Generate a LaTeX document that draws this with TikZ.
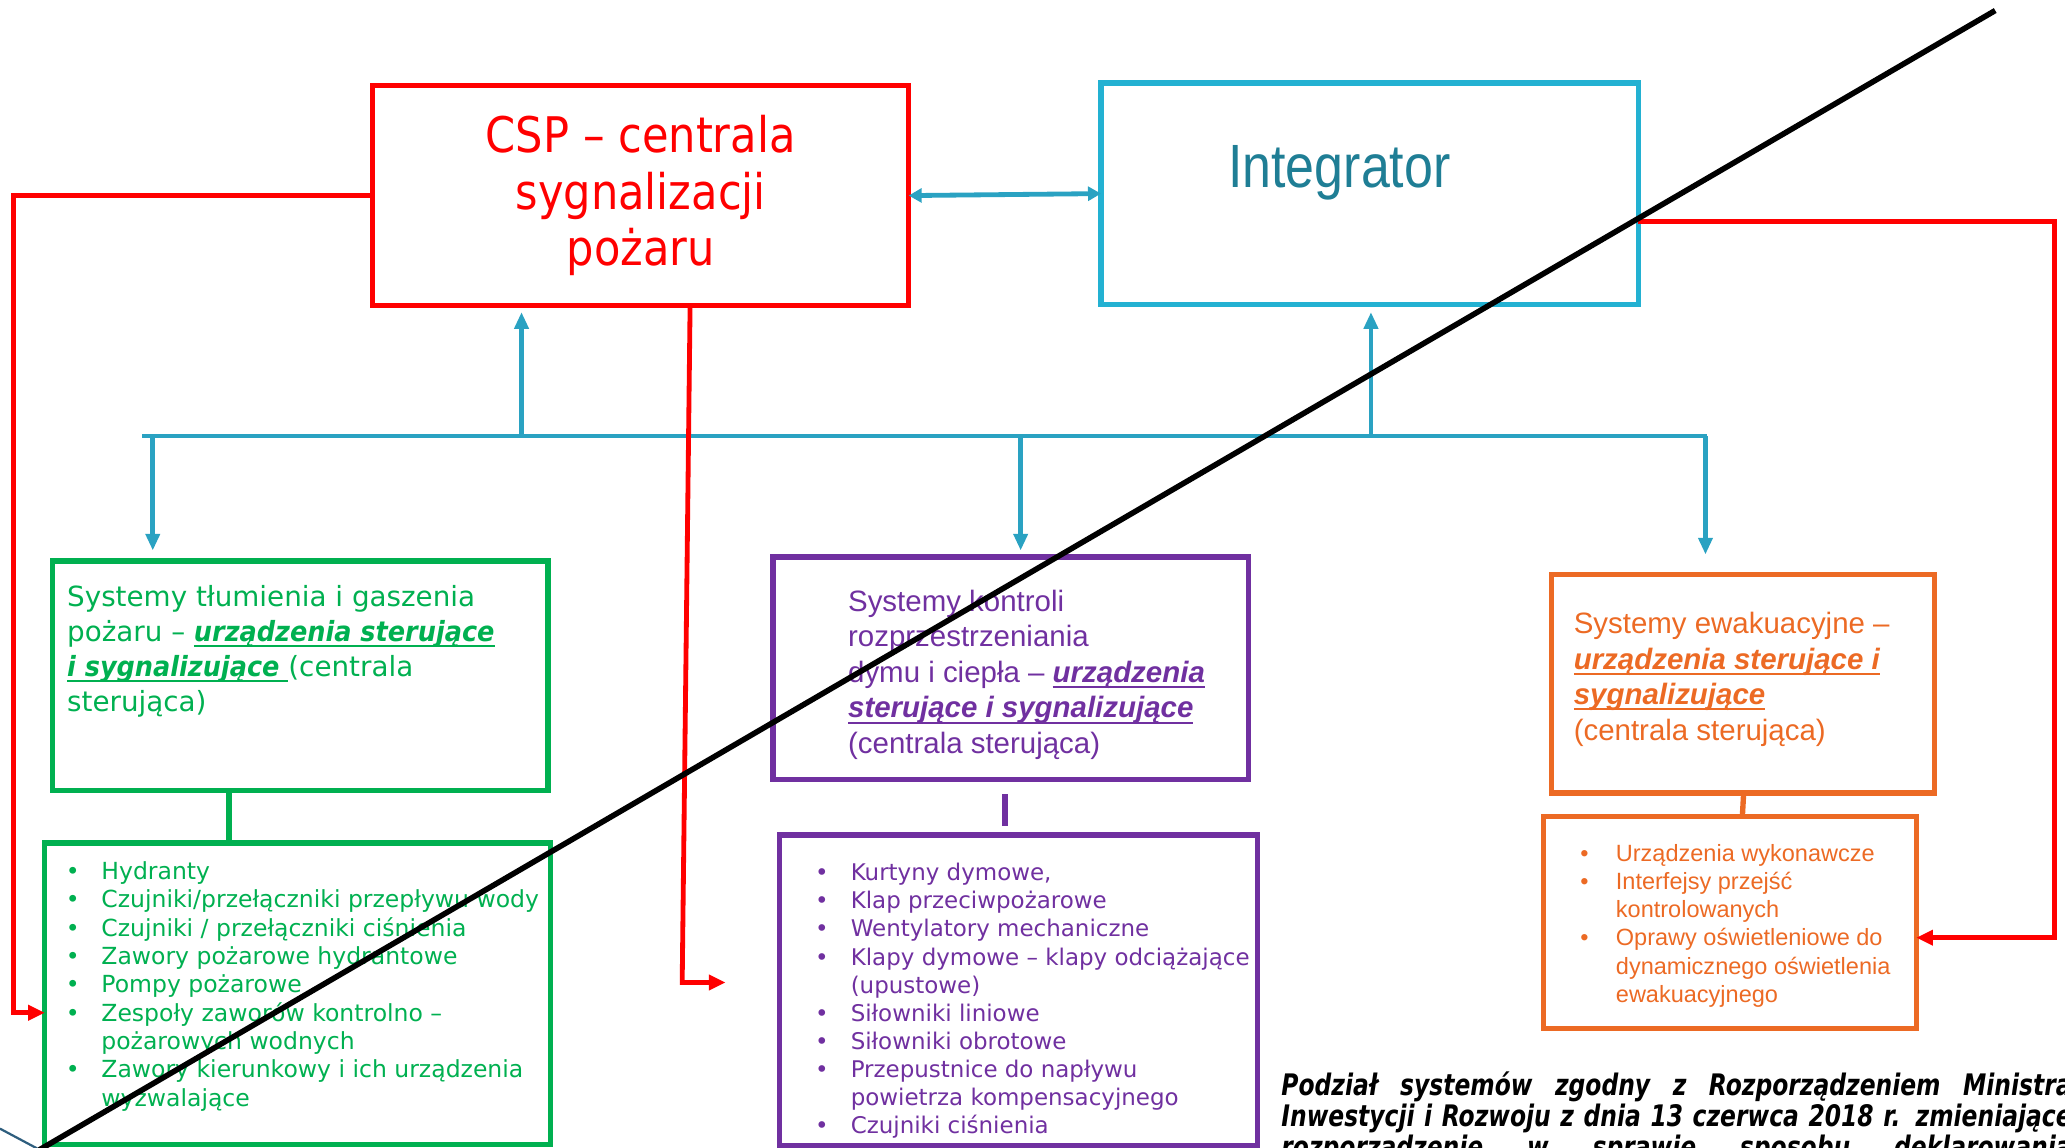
\documentclass[tikz,border=0pt]{standalone}
\usepackage{fontspec}
\setmainfont{DejaVu Sans}
\newfontfamily\cspfont[FakeStretch=0.88]{DejaVu Sans}
\newfontfamily\dejanarrow[FakeStretch=0.92]{DejaVu Sans}
\newfontfamily\arialfont{Liberation Sans}
\newfontfamily\narrowfont[FakeStretch=0.85]{Liberation Sans}
\newfontfamily\captfont[FakeStretch=0.79]{DejaVu Sans}
\usetikzlibrary{arrows.meta,positioning}
\definecolor{cspred}{HTML}{FF0000}
\definecolor{intcyan}{HTML}{23B1D2}
\definecolor{inttext}{HTML}{1F7E95}
\definecolor{buscyan}{HTML}{2AA2C2}
\definecolor{gaszgreen}{HTML}{00B050}
\definecolor{dymviolet}{HTML}{7030A0}
\definecolor{ewakorange}{HTML}{EC6A24}
\definecolor{fragblue}{HTML}{2E5E7E}
\newlength\pxl
\setlength\pxl{0.025cm}
\newsavebox\ulbox
\newcommand\ulbi[1]{\sbox\ulbox{\textbf{\textit{#1}}}\rlap{\rule[-0.2em]{\wd\ulbox}{0.07em}}\usebox\ulbox}
\newcommand\blt{\makebox[27\pxl][l]{•}}
\newcommand\cnt{\hspace*{27\pxl}}

\begin{document}
\begin{tikzpicture}[x=0.025cm, y=-0.025cm, every node/.style={inner sep=0pt, outer sep=0pt},
    sysbox/.style={draw, line width=2.9pt},
    bus/.style={draw=buscyan, line width=2.6pt},
    busarrow/.style={bus, -{Triangle[length=9pt, width=7.5pt]}},
    redarrow/.style={draw=cspred, line width=2.6pt, -{Triangle[length=9pt, width=8pt]}},
    listtxt/.style={anchor=base west, align=left}]
    \useasboundingbox (0,0) rectangle (1568,871);

    \node[sysbox, draw=cspred, minimum width=407\pxl, minimum height=167\pxl, text=cspred, align=center,
      font=\cspfont\fontsize{26.5}{30.6}\selectfont](csp)at (486.5,148.5){CSP – centrala\\ sygnalizacji\\ pożaru};
    \node[sysbox, draw=intcyan, minimum width=408\pxl, minimum height=168\pxl](integ)at (1040,147){};
    \node[text=inttext, font=\narrowfont\fontsize{33}{36}\selectfont](integtxt)at (1017,131){Integrator};

    \node[sysbox, draw=gaszgreen, minimum width=376\pxl, minimum height=174\pxl](gsys)at (228,513){};
    \node[sysbox, draw=gaszgreen, minimum width=384\pxl, minimum height=229\pxl](gdev)at (226,754.5){};
    \node[sysbox, draw=dymviolet, minimum width=361\pxl, minimum height=169\pxl](psys)at (767.5,507.5){};
    \node[sysbox, draw=dymviolet, minimum width=363\pxl, minimum height=236\pxl](pdev)at (773.5,752){};
    \node[sysbox, draw=ewakorange, minimum width=291\pxl, minimum height=166\pxl](osys)at (1323.5,519){};
    \node[sysbox, draw=ewakorange, minimum width=283\pxl, minimum height=161\pxl](odev)at (1313.5,700.5){};

    % base west = baseline of the last line
    \node[listtxt, text=gaszgreen, font=\fontsize{15}{18.8}\selectfont](gsystxt)at (51,540){Systemy tłumienia i gaszenia\\
      pożaru – {\dejanarrow\ulbi{urządzenia sterujące}}\\ {\dejanarrow\ulbi{i sygnalizujące\ }}(centrala\\ sterująca)};
    \node[listtxt, text=gaszgreen, font=\fontsize{12.7}{15.3}\selectfont](gdevtxt)at (50,840){\blt Hydranty\\
      \blt Czujniki/przełączniki przepływu wody\\ \blt Czujniki / przełączniki ciśnienia\\
      \blt Zawory pożarowe hydrantowe\\ \blt Pompy pożarowe\\ \blt Zespoły zaworów kontrolno –\\
      \cnt pożarowych wodnych\\ \blt Zawory kierunkowy i ich urządzenia\\ \cnt wyzwalające};

    \node[listtxt, text=dymviolet, font=\arialfont\fontsize{15.9}{19.2}\selectfont](psystxt)at (644,572){Systemy kontroli\\
      rozprzestrzeniania\\ dymu i ciepła – \ulbi{urządzenia}\\ \ulbi{sterujące i sygnalizujące}\\ (centrala sterująca)};
    \node[listtxt, text=dymviolet, font=\fontsize{12.4}{15.2}\selectfont](pdevtxt)at (619,861){\blt Kurtyny dymowe,\\
      \blt Klap przeciwpożarowe\\ \blt Wentylatory mechaniczne\\ \blt Klapy dymowe – klapy odciążające\\
      \cnt (upustowe)\\ \blt Siłowniki liniowe\\ \blt Siłowniki obrotowe\\ \blt Przepustnice do napływu\\
      \cnt powietrza kompensacyjnego\\ \blt Czujniki ciśnienia};

    \node[listtxt, text=ewakorange, font=\arialfont\fontsize{15.9}{19.2}\selectfont](osystxt)at (1195,562){Systemy ewakuacyjne –\\
      \ulbi{urządzenia sterujące i}\\ \ulbi{sygnalizujące}\\ (centrala sterująca)};
    \node[listtxt, text=ewakorange, font=\arialfont\fontsize{12.7}{15.2}\selectfont](odevtxt)at (1200,761){\blt Urządzenia wykonawcze\\
      \blt Interfejsy przejść\\ \cnt kontrolowanych\\ \blt Oprawy oświetleniowe do\\
      \cnt dynamicznego oświetlenia\\ \cnt ewakuacyjnego};

    \node[listtxt, font=\captfont\bfseries\itshape\fontsize{16}{16.9}\selectfont](note)at (973,879){%
      \makebox[600\pxl][s]{Podział systemów zgodny z Rozporządzeniem Ministra}\\
      \makebox[600\pxl][s]{Inwestycji i Rozwoju z dnia 13 czerwca 2018 r. zmieniające}\\
      \makebox[600\pxl][s]{rozporządzenie w sprawie sposobu deklarowania}};

    \coordinate (busl) at (108,331);
    \coordinate (busr) at (1296,331);
    \coordinate (b1) at (396,331);
    \coordinate (b2) at (1041,331);
    \coordinate (b3) at (116,331);
    \coordinate (b4) at (775,331);
    \coordinate (b5) at (1295,331);
    \draw[bus](busl)--(busr);
    \draw[busarrow, shorten >=5\pxl](b1)--(b1 |- csp.south);
    \draw[busarrow, shorten >=6\pxl](b2)--(b2 |- integ.south);
    \draw[busarrow, shorten >=8\pxl](b3)--(b3 |- gsys.north);
    \draw[busarrow, shorten >=5\pxl](b4)--(b4 |- psys.north);
    \draw[busarrow, shorten >=15\pxl](b5)--(b5 |- osys.north);
    \draw[bus, {Triangle[length=7pt, width=7.5pt]}-{Triangle[length=7pt, width=7.5pt]}](csp.east)--(integ.west);

    \draw[gaszgreen, line width=2.9pt](gsys.south -| 174,0)--(gdev.north -| 174,0);
    \draw[dymviolet, line width=2.9pt, shorten <=11\pxl, shorten >=7\pxl](psys.south -| 763,0)--(pdev.north -| 763,0);
    \draw[ewakorange, line width=2.9pt](osys.south -| 1324,0)--(odev.north -| 1323,0);

    \coordinate (redtip) at (551,746);
    \draw[redarrow](csp.west)-|(10,769)--(gdev.west |- 0,769);
    \draw[redarrow](csp.south -| 524,0)--(518,746)--(redtip);
    \draw[redarrow](integ.east |- 0,168)-|(1560,712)--(odev.east |- 0,712);

    \coordinate (cutlo) at (30,873);
    \coordinate (cuthi) at (1515,8);
    \draw[fragblue, line width=1.2pt](0,857)--(cutlo);
    \draw[black, line width=3pt](cutlo)--(cuthi);
\end{tikzpicture}
\end{document}
